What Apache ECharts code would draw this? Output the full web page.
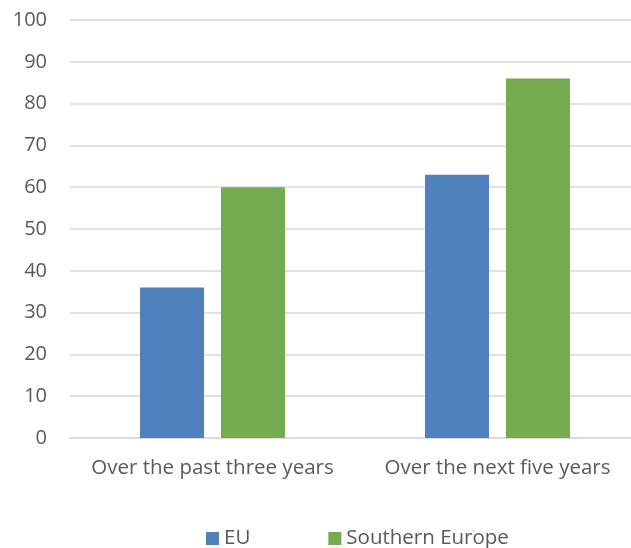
<!DOCTYPE html>
<html>
<head>
<meta charset="utf-8">
<script src="https://cdn.jsdelivr.net/npm/echarts@6/dist/echarts.min.js"></script>
<style>
  html, body { margin: 0; padding: 0; background: #fff; }
  #chart { width: 631px; height: 548px; }
</style>
</head>
<body>
<div id="chart"></div>
<script>
// 数据
const categories = ['Over the past three years', 'Over the next five years']
const euValues = [36, 63]
const southValues = [60, 86]
const seriesNames = ['EU', 'Southern Europe']

const textColor = '#595959'
const font = 'Open Sans'

const chart = echarts.init(document.getElementById('chart'))

const option = {
  animation: false,
  textStyle: { fontFamily: font },
  grid: {
    left: 70,
    top: 20,
    width: 570,
    bottom: 110,
    outerBoundsMode: 'none'
  },
  legend: {
    data: seriesNames,
    left: 201,
    top: 523,
    icon: 'rect',
    itemWidth: 13,
    itemHeight: 13,
    itemGap: 78,
    textStyle: { color: textColor, fontSize: 20.5, fontFamily: font }
  },
  xAxis: {
    type: 'category',
    data: categories,
    axisLine: { lineStyle: { color: '#d9d9d9', width: 1.5 } },
    axisTick: { show: false },
    axisLabel: {
      color: textColor,
      fontSize: 20.5,
      fontFamily: font,
      margin: 20,
      interval: 0
    }
  },
  yAxis: {
    type: 'value',
    min: 0,
    max: 100,
    interval: 10,
    axisLine: { show: false },
    axisTick: { show: false },
    splitLine: { lineStyle: { color: '#d9d9d9', width: 1.5 } },
    axisLabel: {
      color: textColor,
      fontSize: 20,
      fontFamily: font,
      margin: 23
    }
  },
  series: [
    {
      name: seriesNames[0],
      type: 'bar',
      data: euValues,
      barWidth: 64,
      barGap: '26.5%',
      itemStyle: { color: '#4f81bd' }
    },
    {
      name: seriesNames[1],
      type: 'bar',
      data: southValues,
      barWidth: 64,
      itemStyle: { color: '#75ab4f' }
    }
  ]
}
chart.setOption(option)
</script>
</body>
</html>
